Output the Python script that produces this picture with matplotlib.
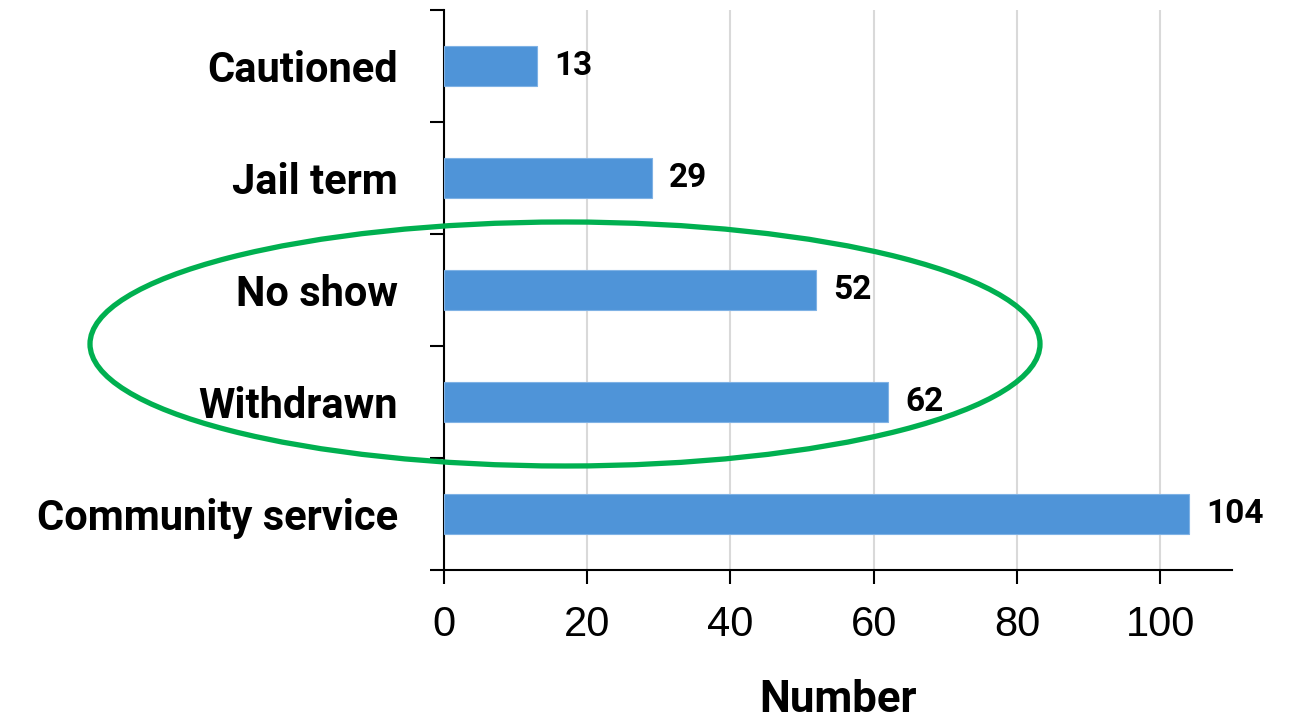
import numpy as np
import matplotlib.pyplot as plt
from matplotlib.patches import Ellipse

categories = ["Community service", "Withdrawn", "No show", "Jail term", "Cautioned"]
counts = [104, 62, 52, 29, 13]
x_ticks = [0, 20, 40, 60, 80, 100]

plt.rcParams["font.family"] = ["Liberation Sans", "DejaVu Sans"]
BOLD = ["Roboto", "Liberation Sans", "DejaVu Sans"]

fig = plt.figure(figsize=(12.91, 7.18), dpi=100)
ax = fig.add_axes([0.3437, 0.2061, 0.9543 - 0.3437, 0.986 - 0.2061])

y = np.arange(len(categories))
ax.barh(y, counts, height=0.35, color="#4F94D8", edgecolor="#7FB2E5",
        linewidth=0.8, zorder=3)

for yi, v in zip(y, counts):
    ax.text(v + 2.4, yi, str(v), va="center", ha="left", fontsize=24,
            fontweight="bold", family=BOLD, color="black")

ax.set_xlim(0, 110)
ax.set_ylim(-0.5, len(categories) - 0.5)
ax.set_xticks(x_ticks)
ax.set_xticklabels([str(t) for t in x_ticks], fontsize=30)
ax.tick_params(axis="x", direction="out", length=10, width=1.5, pad=15)

# category labels sit between boundary ticks
ax.set_yticks(y)
ax.set_yticklabels(categories, fontsize=30, fontweight="bold", family=BOLD)
ax.tick_params(axis="y", which="major", length=0, pad=33)
ax.set_yticks(np.arange(-0.5, len(categories), 1.0), minor=True)
ax.tick_params(axis="y", which="minor", direction="out", length=10, width=1.5)

ax.grid(axis="x", color="#D9D9D9", linewidth=1.5, zorder=0)
ax.set_axisbelow(True)

for s in ["top", "right"]:
    ax.spines[s].set_visible(False)
ax.spines["left"].set_linewidth(1.5)
ax.spines["bottom"].set_linewidth(1.5)

ax.set_xlabel("Number", fontsize=31.5, fontweight="bold", family=BOLD)
ax.xaxis.label.set_verticalalignment("baseline")
ax.xaxis.set_label_coords(0.5, -0.2536)

# green highlight ellipse around No show / Withdrawn
ell = Ellipse((565 / 1291, 1 - 344 / 718), 950 / 1291, 244 / 718,
              transform=fig.transFigure, fill=False, edgecolor="#00B050",
              linewidth=3.8, zorder=10)
fig.add_artist(ell)

fig.savefig("out.png", dpi=100)
